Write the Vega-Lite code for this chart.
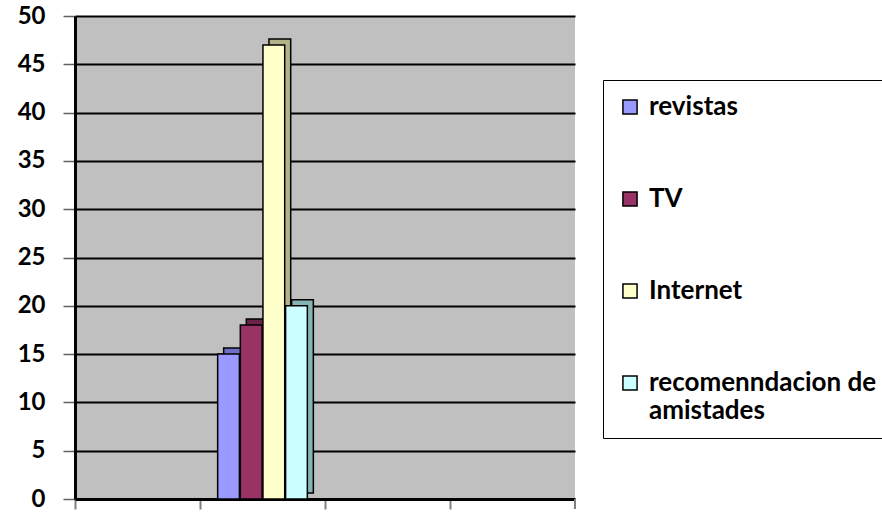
{
  "$schema": "https://vega.github.io/schema/vega-lite/v6.json",
  "width": 500,
  "height": 483,
  "autosize": "none",
  "padding": {"left": 75, "top": 16, "right": 307, "bottom": 15},
  "background": "white",
  "config": {
    "view": {"fill": "#C0C0C0", "stroke": null},
    "font": "Lato"
  },
  "data": {
    "values": [
      {"grupo": "2", "serie": "revistas", "valor": 15},
      {"grupo": "2", "serie": "TV", "valor": 18},
      {"grupo": "2", "serie": "Internet", "valor": 47},
      {"grupo": "2", "serie": "recomenndacion de amistades", "valor": 20}
    ]
  },
  "layer": [
    {
      "mark": {"type": "bar", "yOffset": -6, "stroke": "black", "strokeWidth": 1.5},
      "encoding": {
        "x": {"field": "grupo", "type": "nominal", "scale": {"domain": ["1", "2", "3", "4"], "paddingInner": 0, "paddingOuter": 0},
          "axis": {"labels": false, "title": null, "bandPosition": 0, "tickSize": 10, "tickColor": "#808080", "tickWidth": 2, "domainColor": "black", "domainWidth": 3}},
        "xOffset": {"field": "serie", "type": "nominal", "sort": ["revistas", "TV", "Internet", "recomenndacion de amistades"], "scale": {"paddingInner": 0.04, "paddingOuter": 0.78, "align": 0.67}},
        "y": {"field": "valor", "type": "quantitative", "scale": {"domain": [0, 50], "nice": false},
          "axis": {"values": [0, 5, 10, 15, 20, 25, 30, 35, 40, 45, 50], "title": null, "grid": true, "gridColor": "black", "gridWidth": 2, "gridOpacity": 1,
            "labelFont": "Lato", "labelFontWeight": "bold", "labelFontSize": 24, "labelColor": "black", "labelPadding": 18,
            "tickSize": 12, "tickColor": "#606060", "tickWidth": 1.5, "domainColor": "black", "domainWidth": 3}},
        "color": {"field": "serie", "type": "nominal", "legend": null,
          "scale": {"domain": ["revistas", "TV", "Internet", "recomenndacion de amistades"], "range": ["#6E6EC4", "#6B2447", "#B3B38A", "#86B3B3"]}}
      }
    },
    {
      "mark": {"type": "bar", "stroke": "black", "strokeWidth": 1.5},
      "encoding": {
        "x": {"field": "grupo", "type": "nominal"},
        "xOffset": {"field": "serie", "type": "nominal", "sort": ["revistas", "TV", "Internet", "recomenndacion de amistades"], "scale": {"paddingInner": 0.04, "paddingOuter": 0.78, "align": 0.5}},
        "y": {"field": "valor", "type": "quantitative"},
        "fill": {"field": "serie", "type": "nominal",
          "scale": {"domain": ["revistas", "TV", "Internet", "recomenndacion de amistades"], "range": ["#9999FF", "#993366", "#FFFFCC", "#CCFFFF"]},
          "legend": {"title": null, "orient": "none", "legendX": 528, "legendY": 64,
            "fillColor": "white", "strokeColor": "black", "padding": 14,
            "symbolType": "square", "symbolSize": 200, "symbolStrokeColor": "black", "symbolStrokeWidth": 1.5,
            "labelFont": "Lato", "labelFontWeight": "bold", "labelFontSize": 26, "labelColor": "black",
            "labelLimit": 400, "rowPadding": 66, "labelOffset": 6,
            "labelExpr": "datum.label == 'recomenndacion de amistades' ? ['recomenndacion de', 'amistades'] : datum.label"}}
      }
    },
    {
      "mark": {"type": "rule", "color": "#808080", "strokeWidth": 2},
      "encoding": {
        "x": {"datum": "4", "type": "nominal", "bandPosition": 1},
        "y": {"datum": 0, "type": "quantitative"},
        "y2": {"datum": -1.0}
      }
    }
  ],
  "resolve": {"scale": {"color": "independent", "xOffset": "independent"}}
}
